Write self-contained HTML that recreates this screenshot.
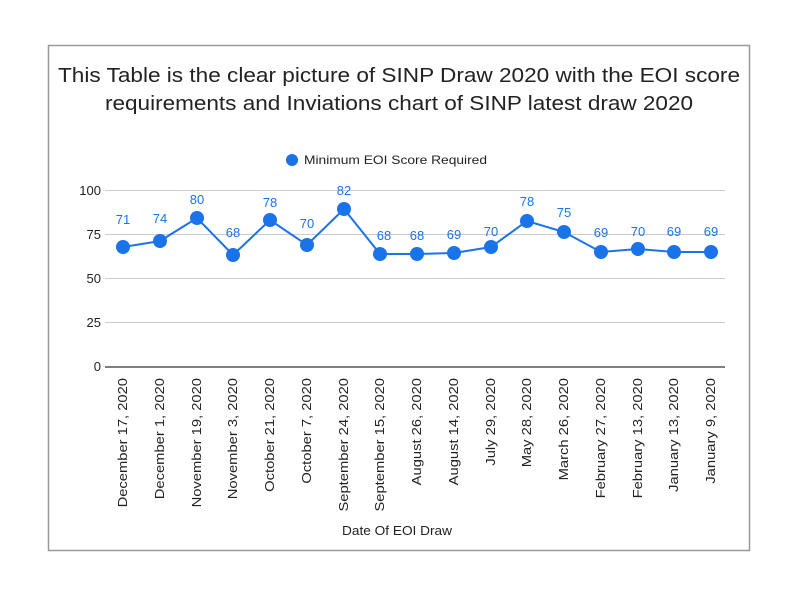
<!DOCTYPE html>
<html><head><meta charset="utf-8"><style>
body{margin:0;background:#fff;}
svg text{font-family:"Liberation Sans",sans-serif;}
</style></head><body>
<svg width="800" height="600" xmlns="http://www.w3.org/2000/svg">
<rect x="0" y="0" width="800" height="600" fill="#fff"/>
<rect x="48.5" y="45.5" width="701" height="505" fill="#fff" stroke="#999" stroke-width="1.5"/>
<text x="58" y="82" font-size="20" textLength="682" lengthAdjust="spacingAndGlyphs" fill="#222">This Table is the clear picture of SINP Draw 2020 with the EOI score</text>
<text x="105" y="110" font-size="20" textLength="588" lengthAdjust="spacingAndGlyphs" fill="#222">requirements and Inviations chart of SINP latest draw 2020</text>
<circle cx="292" cy="160" r="6" fill="#1a73e8"/>
<text x="304" y="164" font-size="12" textLength="183" lengthAdjust="spacingAndGlyphs" fill="#222">Minimum EOI Score Required</text>
<g stroke="#ccc" stroke-width="1">
<line x1="105" y1="190.5" x2="725" y2="190.5"/>
<line x1="105" y1="234.5" x2="725" y2="234.5"/>
<line x1="105" y1="278.5" x2="725" y2="278.5"/>
<line x1="105" y1="322.5" x2="725" y2="322.5"/>
</g>
<line x1="105" y1="367" x2="725" y2="367" stroke="#333" stroke-width="1.2"/>
<g font-size="13" fill="#222" text-anchor="end">
<text x="101" y="195">100</text><text x="101" y="239">75</text><text x="101" y="283">50</text><text x="101" y="327">25</text><text x="101" y="371">0</text>
</g>
<polyline fill="none" stroke="#1a73e8" stroke-width="2" points="123,247 160,241 197,218 233,255 270,220 307,245 344,209 380,254 417,254 454,253 491,247 527,221 564,232 601,252 638,249 674,252 711,252"/>
<g fill="#1a73e8">
<circle cx="123" cy="247" r="7"/><circle cx="160" cy="241" r="7"/><circle cx="197" cy="218" r="7"/><circle cx="233" cy="255" r="7"/><circle cx="270" cy="220" r="7"/><circle cx="307" cy="245" r="7"/><circle cx="344" cy="209" r="7"/><circle cx="380" cy="254" r="7"/><circle cx="417" cy="254" r="7"/><circle cx="454" cy="253" r="7"/><circle cx="491" cy="247" r="7"/><circle cx="527" cy="221" r="7"/><circle cx="564" cy="232" r="7"/><circle cx="601" cy="252" r="7"/><circle cx="638" cy="249" r="7"/><circle cx="674" cy="252" r="7"/><circle cx="711" cy="252" r="7"/>
</g>
<g font-size="13" fill="#1a73e8" text-anchor="middle">
<text x="123" y="224">71</text><text x="160" y="223">74</text><text x="197" y="204">80</text><text x="233" y="237">68</text><text x="270" y="207">78</text><text x="307" y="228">70</text><text x="344" y="195">82</text><text x="384" y="240">68</text><text x="417" y="240">68</text><text x="454" y="239">69</text><text x="491" y="236">70</text><text x="527" y="206">78</text><text x="564" y="217">75</text><text x="601" y="237">69</text><text x="638" y="236">70</text><text x="674" y="236">69</text><text x="711" y="236">69</text>
</g>
<g font-size="12.5" fill="#222" text-anchor="end">
<text transform="translate(127,378) rotate(-90) scale(1.18,1)">December 17, 2020</text>
<text transform="translate(164,378) rotate(-90) scale(1.18,1)">December 1, 2020</text>
<text transform="translate(201,378) rotate(-90) scale(1.18,1)">November 19, 2020</text>
<text transform="translate(237,378) rotate(-90) scale(1.18,1)">November 3, 2020</text>
<text transform="translate(274,378) rotate(-90) scale(1.18,1)">October 21, 2020</text>
<text transform="translate(311,378) rotate(-90) scale(1.18,1)">October 7, 2020</text>
<text transform="translate(348,378) rotate(-90) scale(1.18,1)">September 24, 2020</text>
<text transform="translate(384,378) rotate(-90) scale(1.18,1)">September 15, 2020</text>
<text transform="translate(421,378) rotate(-90) scale(1.18,1)">August 26, 2020</text>
<text transform="translate(458,378) rotate(-90) scale(1.18,1)">August 14, 2020</text>
<text transform="translate(495,378) rotate(-90) scale(1.18,1)">July 29, 2020</text>
<text transform="translate(531,378) rotate(-90) scale(1.18,1)">May 28, 2020</text>
<text transform="translate(568,378) rotate(-90) scale(1.18,1)">March 26, 2020</text>
<text transform="translate(605,378) rotate(-90) scale(1.18,1)">February 27, 2020</text>
<text transform="translate(642,378) rotate(-90) scale(1.18,1)">February 13, 2020</text>
<text transform="translate(678,378) rotate(-90) scale(1.18,1)">January 13, 2020</text>
<text transform="translate(715,378) rotate(-90) scale(1.18,1)">January 9, 2020</text>
</g>
<text x="342" y="535" font-size="13" textLength="110" lengthAdjust="spacingAndGlyphs" fill="#222">Date Of EOI Draw</text>
</svg>
</body></html>
